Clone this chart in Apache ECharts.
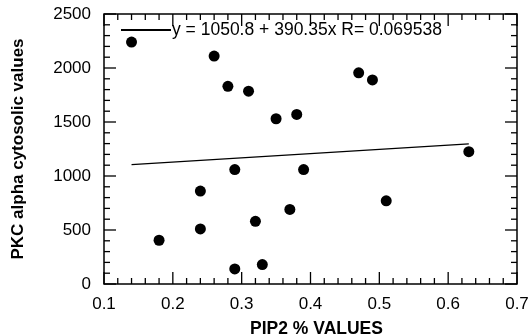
<!DOCTYPE html>
<html>
<head>
<meta charset="utf-8">
<script src="https://cdn.jsdelivr.net/npm/echarts@6/dist/echarts.min.js"></script>
<style>
html,body{margin:0;padding:0;background:#fff;}
#c{width:529px;height:336px;}
</style>
</head>
<body>
<div id="c"></div>
<script>
// PIP2 % values (x) and PKC alpha cytosolic values (y)
var pip2 = [0.14, 0.18, 0.24, 0.24, 0.26, 0.28, 0.29, 0.29, 0.31, 0.32, 0.33, 0.35, 0.37, 0.38, 0.39, 0.47, 0.49, 0.51, 0.63];
var pkc  = [2240, 405, 510, 860, 2110, 1830, 1060, 140, 1785, 580, 180, 1530, 690, 1570, 1060, 1955, 1890, 770, 1225];
// regression fit as stated on the chart
var fitIntercept = [1050.8];
var fitSlope = [390.35];
var fitLabel = ['y = 1050.8 + 390.35x R= 0.069538'];
var xTicks = [0.1, 0.2, 0.3, 0.4, 0.5, 0.6, 0.7];
var yTicks = [0, 500, 1000, 1500, 2000, 2500];
var minorSplits = 5;

var pts = pip2.map(function(x, i){ return [x, pkc[i]]; });
var xmin = Math.min.apply(null, pip2), xmax = Math.max.apply(null, pip2);
var fit = [[xmin, fitIntercept[0] + fitSlope[0]*xmin], [xmax, fitIntercept[0] + fitSlope[0]*xmax]];

// tick marks (mirrored on all four sides) : [x, y, isMajor, isXAxis]
var X0 = xTicks[0], Y0 = yTicks[0];
var tickData = [];
function addTicks(ticks, isX) {
  for (var i = 0; i < ticks.length; i++) {
    tickData.push(isX ? [ticks[i], Y0, 1, 1] : [X0, ticks[i], 1, 0]);
    if (i < ticks.length - 1) {
      for (var k = 1; k < minorSplits; k++) {
        var v = ticks[i] + (ticks[i+1] - ticks[i]) * k / minorSplits;
        tickData.push(isX ? [v, Y0, 0, 1] : [X0, v, 0, 0]);
      }
    }
  }
}
addTicks(xTicks, true);
addTicks(yTicks, false);

var FONT = 'Liberation Sans, Arial, sans-serif';
var xFmt = function(v){ return String(Math.round(v*10)/10); };
var yFmt = function(v){ return String(v); };

function renderTick(params, api) {
  var cs = params.coordSys;
  var major = api.value(2) === 1, isX = api.value(3) === 1;
  var len = major ? 12 : 6;
  var p = api.coord([api.value(0), api.value(1)]);
  var st = {stroke: '#000', lineWidth: 1.3};
  var top = cs.y, bottom = cs.y + cs.height, left = cs.x, right = cs.x + cs.width;
  var kids;
  if (isX) {
    kids = [
      {type: 'line', shape: {x1: p[0], y1: bottom, x2: p[0], y2: bottom - len}, style: st},
      {type: 'line', shape: {x1: p[0], y1: top, x2: p[0], y2: top + len}, style: st}
    ];
  } else {
    kids = [
      {type: 'line', shape: {x1: left, y1: p[1], x2: left + len, y2: p[1]}, style: st},
      {type: 'line', shape: {x1: right, y1: p[1], x2: right - len, y2: p[1]}, style: st}
    ];
  }
  return {type: 'group', children: kids};
}

var chart = echarts.init(document.getElementById('c'));
chart.setOption({
  backgroundColor: '#fff',
  animation: false,
  grid: {left: 104, right: 12, top: 14, bottom: 52, containLabel: false, outerBoundsMode: 'none',
         show: true, borderColor: '#000', borderWidth: 1.5, backgroundColor: 'transparent'},
  legend: {
    show: true,
    left: 116, top: 16,
    itemWidth: 50, itemHeight: 2, itemGap: 2,
    icon: 'rect',
    data: [{name: fitLabel[0], itemStyle: {color: '#000'}}],
    textStyle: {color: '#000', fontSize: 17.5, fontFamily: FONT, padding: [0,0,0,-4]}
  },
  xAxis: {
    type: 'value', min: xTicks[0], max: xTicks[xTicks.length-1], interval: 0.1,
    axisLine: {show: false}, axisTick: {show: false}, splitLine: {show: false},
    axisLabel: {color: '#000', fontSize: 17, fontFamily: FONT, margin: 12, formatter: xFmt},
    name: 'PIP2 % VALUES', nameLocation: 'middle', nameGap: 36,
    nameTextStyle: {color: '#000', fontSize: 17.5, fontWeight: 'bold', fontFamily: FONT, padding: [0,0,0,12]}
  },
  yAxis: {
    type: 'value', min: yTicks[0], max: yTicks[yTicks.length-1], interval: 500,
    axisLine: {show: false}, axisTick: {show: false}, splitLine: {show: false},
    axisLabel: {color: '#000', fontSize: 17, fontFamily: FONT, margin: 13, formatter: yFmt},
    name: 'PKC alpha cytosolic values', nameLocation: 'middle', nameGap: 77,
    nameTextStyle: {color: '#000', fontSize: 17, fontWeight: 'bold', fontFamily: FONT}
  },
  series: [
    {type: 'custom', name: 'ticks', data: tickData, renderItem: renderTick, silent: true,
     clip: false, z: 5},
    {type: 'scatter', name: 'data', data: pts, symbol: 'circle', symbolSize: 11,
     itemStyle: {color: '#000', opacity: 1}},
    {type: 'line', name: fitLabel[0], data: fit, showSymbol: false, symbol: 'none',
     lineStyle: {color: '#000', width: 1.3}, itemStyle: {color: '#000'}}
  ]
});
</script>
</body>
</html>
